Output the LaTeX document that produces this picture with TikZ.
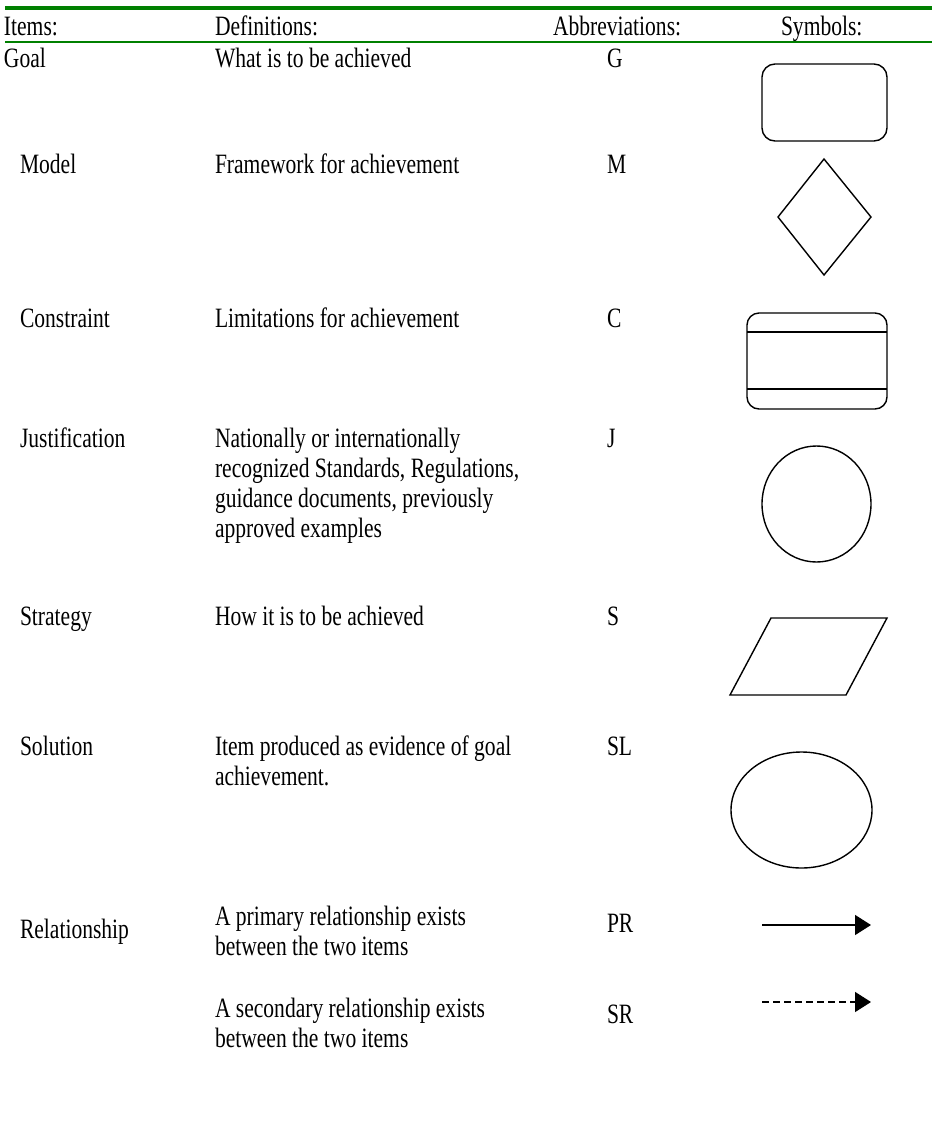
\documentclass[tikz,border=0pt]{standalone}
\usepackage{fontspec}
\setmainfont{Liberation Serif}[FakeStretch=0.77]
\usetikzlibrary{arrows.meta}
\definecolor{hdrgreen}{RGB}{0,128,0}
\newcommand\mlines[1]{\begin{tabular}[t]{@{}l@{}}#1\end{tabular}}
\begin{document}
\begin{tikzpicture}[x=1pt,y=-1pt,
  every node/.style={inner sep=0pt,outer sep=0pt},
  txt/.style={font=\fontsize{28}{30}\selectfont,anchor=base west},
  shp/.style={draw=black,line width=1.4pt},
  rule/.style={draw=hdrgreen},
  rel/.style={line width=1.5pt,-{Triangle[length=16pt,width=20pt]}}]
\useasboundingbox[fill=white] (0,0) rectangle (932,1144);
% header rules
\draw[rule,line width=4pt] (5,8) -- (932,8);
\draw[rule,line width=2.5pt] (5,42) -- (932,42);
% header
\node[txt] (hItems) at (4,35) {Items:};
\node[txt] (hDef) at (215,35) {Definitions:};
\node[txt] (hAbb) at (553,35) {Abbreviations:};
\node[txt] (hSym) at (781,35) {Symbols:};
% Goal
\node[txt] (iG) at (4,67) {Goal};
\node[txt] (dG) at (215,67) {What is to be achieved};
\node[txt] (aG) at (607,67) {G};
% Model
\node[txt] (iM) at (20,173) {Model};
\node[txt] (dM) at (215,173) {Framework for achievement};
\node[txt] (aM) at (607,173) {M};
% Constraint
\node[txt] (iC) at (20,327) {Constraint};
\node[txt] (dC) at (215,327) {Limitations for achievement};
\node[txt] (aC) at (607,327) {C};
% Justification
\node[txt] (iJ) at (20,447) {Justification};
\node[txt] (dJ) at (215,447) {\mlines{Nationally or internationally\\recognized Standards, Regulations,\\guidance documents, previously\\approved examples}};
\node[txt] (aJ) at (607,447) {J};
% Strategy
\node[txt] (iS) at (20,625) {Strategy};
\node[txt] (dS) at (215,625) {How it is to be achieved};
\node[txt] (aS) at (607,625) {S};
% Solution
\node[txt] (iSL) at (20,755) {Solution};
\node[txt] (dSL) at (215,755) {\mlines{Item produced as evidence of goal\\achievement.}};
\node[txt] (aSL) at (607,755) {SL};
% Relationship
\node[txt] (iR) at (20,938) {Relationship};
\node[txt] (dPR) at (215,925) {\mlines{A primary relationship exists\\between the two items}};
\node[txt] (aPR) at (607,932) {PR};
\node[txt] (dSR) at (215,1017) {\mlines{A secondary relationship exists\\between the two items}};
\node[txt] (aSR) at (607,1023) {SR};
% symbols
\draw[shp,rounded corners=13pt] (762,64) rectangle (887,141);
\draw[shp] (824,159) -- (871,217) -- (824,275) -- (778,217) -- cycle;
\draw[shp,rounded corners=12pt] (747,313) rectangle (887,409);
\draw[shp] (747,332) -- (887,332);
\draw[shp] (747,389) -- (887,389);
\draw[shp] (816.5,504) ellipse [x radius=54.5pt,y radius=58pt];
\draw[shp] (771,618) -- (887,618) -- (846,695) -- (730,695) -- cycle;
\draw[shp] (801.5,810) ellipse [x radius=70.5pt,y radius=58pt];
% relationship arrows
\coordinate (prA) at (762,925);
\coordinate (prB) at (871,925);
\coordinate (srA) at (762,1002);
\coordinate (srB) at (871,1002);
\draw[rel] (prA) -- (prB);
\draw[rel,dash pattern=on 7pt off 4pt] (srA) -- (srB);
\end{tikzpicture}
\end{document}
